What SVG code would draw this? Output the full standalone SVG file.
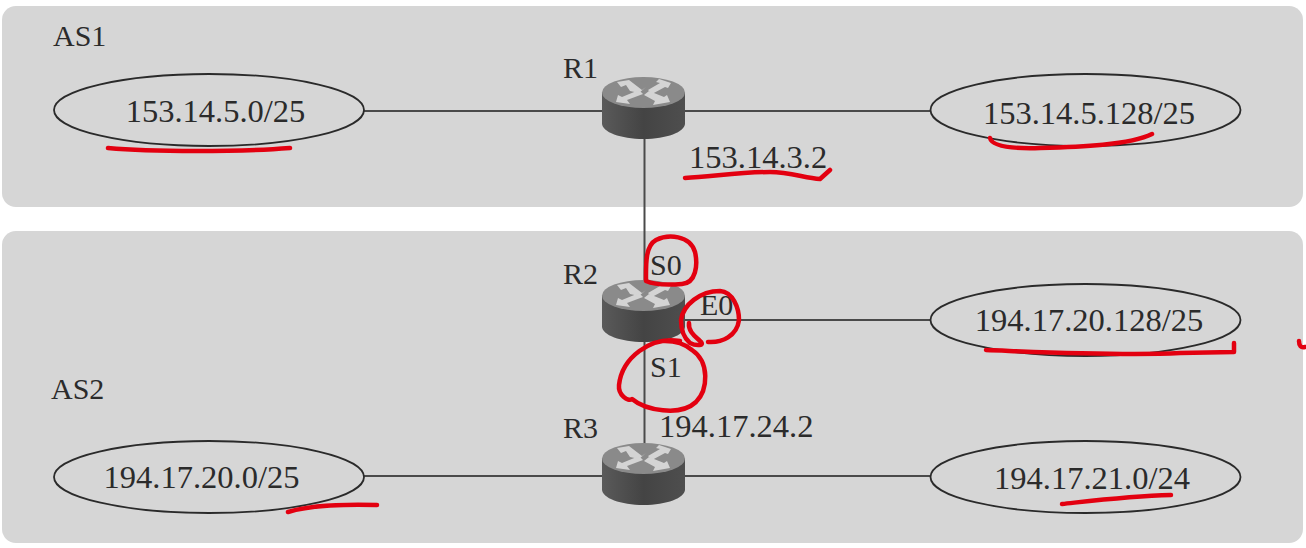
<svg xmlns="http://www.w3.org/2000/svg" width="1306" height="548" viewBox="0 0 1306 548">
<style>
text{font-family:"Liberation Serif","Times New Roman",serif;font-size:30px;fill:#2b2b2b}
.net text{text-anchor:middle;font-size:32.500px}
.ip{font-size:32.500px}
.panel{fill:#d6d6d6}
.net ellipse{fill:none;stroke:#2a2a2a;stroke-width:1.800}
.conn line{stroke:#4a4a4a;stroke-width:2}
.ink path{fill:none;stroke:#e30010;stroke-width:4.500;stroke-linecap:round;stroke-linejoin:round}
.arrow{fill:#d4d4d4}
</style>
<defs>
<linearGradient id="side" x1="0" x2="1" y1="0" y2="0"><stop offset="0" stop-color="#5a5a5a"/><stop offset="0.5" stop-color="#444"/><stop offset="1" stop-color="#4e4e4e"/></linearGradient>
<g id="router">
<path d="M0 15.500V46.500C0 55 18.500 62 41.500 62S83 55 83 46.500V15.500Z" fill="url(#side)"/>
<ellipse cx="41.500" cy="15.500" rx="41.500" ry="15.500" fill="#8a8a8a"/>
<path class="arrow" d="M15 5L27 3L40 13L44 10L37 16L28 14L24 8L19 10Z"/>
<path class="arrow" d="M69 6L57 2L54 5L58 6L46 13L50 17L63 10L66 11Z"/>
<path class="arrow" d="M14 25L16 18L20 20L37 13L41 17L25 23L28 27Z"/>
<path class="arrow" d="M68 25L51 28L53 24L42 18L47 14L62 20L65 18Z"/>
</g>
</defs>
<rect width="1306" height="548" fill="#fff"/>
<rect id="as1" class="panel" x="2" y="6" width="1301" height="201" rx="14"/>
<rect id="as2" class="panel" x="2" y="231" width="1301" height="312" rx="14"/>
<text x="53" y="46">AS1</text>
<text x="51" y="399">AS2</text>
<g class="conn">
<line x1="364" y1="111" x2="604" y2="111"/>
<line x1="684" y1="111" x2="930" y2="111"/>
<line x1="644.500" y1="138" x2="644.500" y2="282"/>
<line x1="684" y1="320" x2="930" y2="320"/>
<line x1="644.500" y1="340" x2="644.500" y2="446"/>
<line x1="364" y1="476" x2="604" y2="476"/>
<line x1="684" y1="476" x2="930" y2="476"/>
</g>
<g id="net1" class="net"><ellipse cx="209" cy="110" rx="155" ry="36"/><text x="215.500" y="122">153.14.5.0/25</text></g>
<g id="net2" class="net"><ellipse cx="1085.500" cy="110" rx="155" ry="36"/><text x="1089" y="124">153.14.5.128/25</text></g>
<g id="net3" class="net"><ellipse cx="1085.500" cy="320" rx="155" ry="36"/><text x="1089" y="331">194.17.20.128/25</text></g>
<g id="net4" class="net"><ellipse cx="209" cy="477" rx="155" ry="36"/><text x="201.500" y="488">194.17.20.0/25</text></g>
<g id="net5" class="net"><ellipse cx="1085.500" cy="477" rx="155" ry="36"/><text x="1092" y="489">194.17.21.0/24</text></g>
<g id="R1"><use href="#router" x="602" y="77"/><text x="563" y="78">R1</text><text class="ip" x="689" y="168">153.14.3.2</text></g>
<g id="R2"><use href="#router" x="602" y="280"/><text x="563" y="284">R2</text><text x="650" y="275">S0</text><text x="700" y="315">E0</text><text x="650" y="377">S1</text></g>
<g id="R3"><use href="#router" x="602" y="443"/><text x="563" y="438">R3</text><text class="ip" x="659" y="437">194.17.24.2</text></g>
<g class="ink">
<path d="M108 148C150 152 240 152 290 148"/>
<path d="M990 138C992 146 1010 149 1040 148C1080 147 1130 145 1152 134"/>
<path d="M685 178C710 177 740 172 770 172C790 172 805 178 820 179L830 170"/>
<path d="M646 281C646 265 645 246 656 240C668 234 690 235 695 252C698 265 696 283 682 284C670 285 655 285 646 281Z"/>
<path d="M689 323C688 332 696 337 700 341C706 346 696 346 690 343C684 338 681 330 681 320C683 305 700 291 720 291C733 292 739 308 739 320C737 336 722 343 708 342"/>
<path d="M680 341C650 336 622 358 619 385C618 395 628 402 632 399C645 410 680 417 696 402C708 390 710 362 692 350C685 344 675 341 665 341"/>
<path d="M986 350C1040 352 1120 356 1180 353L1234 352V343"/>
<path d="M1299 341C1299 346 1301 348 1305 347"/>
<path d="M288 512C310 505 340 504 377 505"/>
<path d="M1062 504C1090 501 1130 496 1171 495"/>
</g>
</svg>
